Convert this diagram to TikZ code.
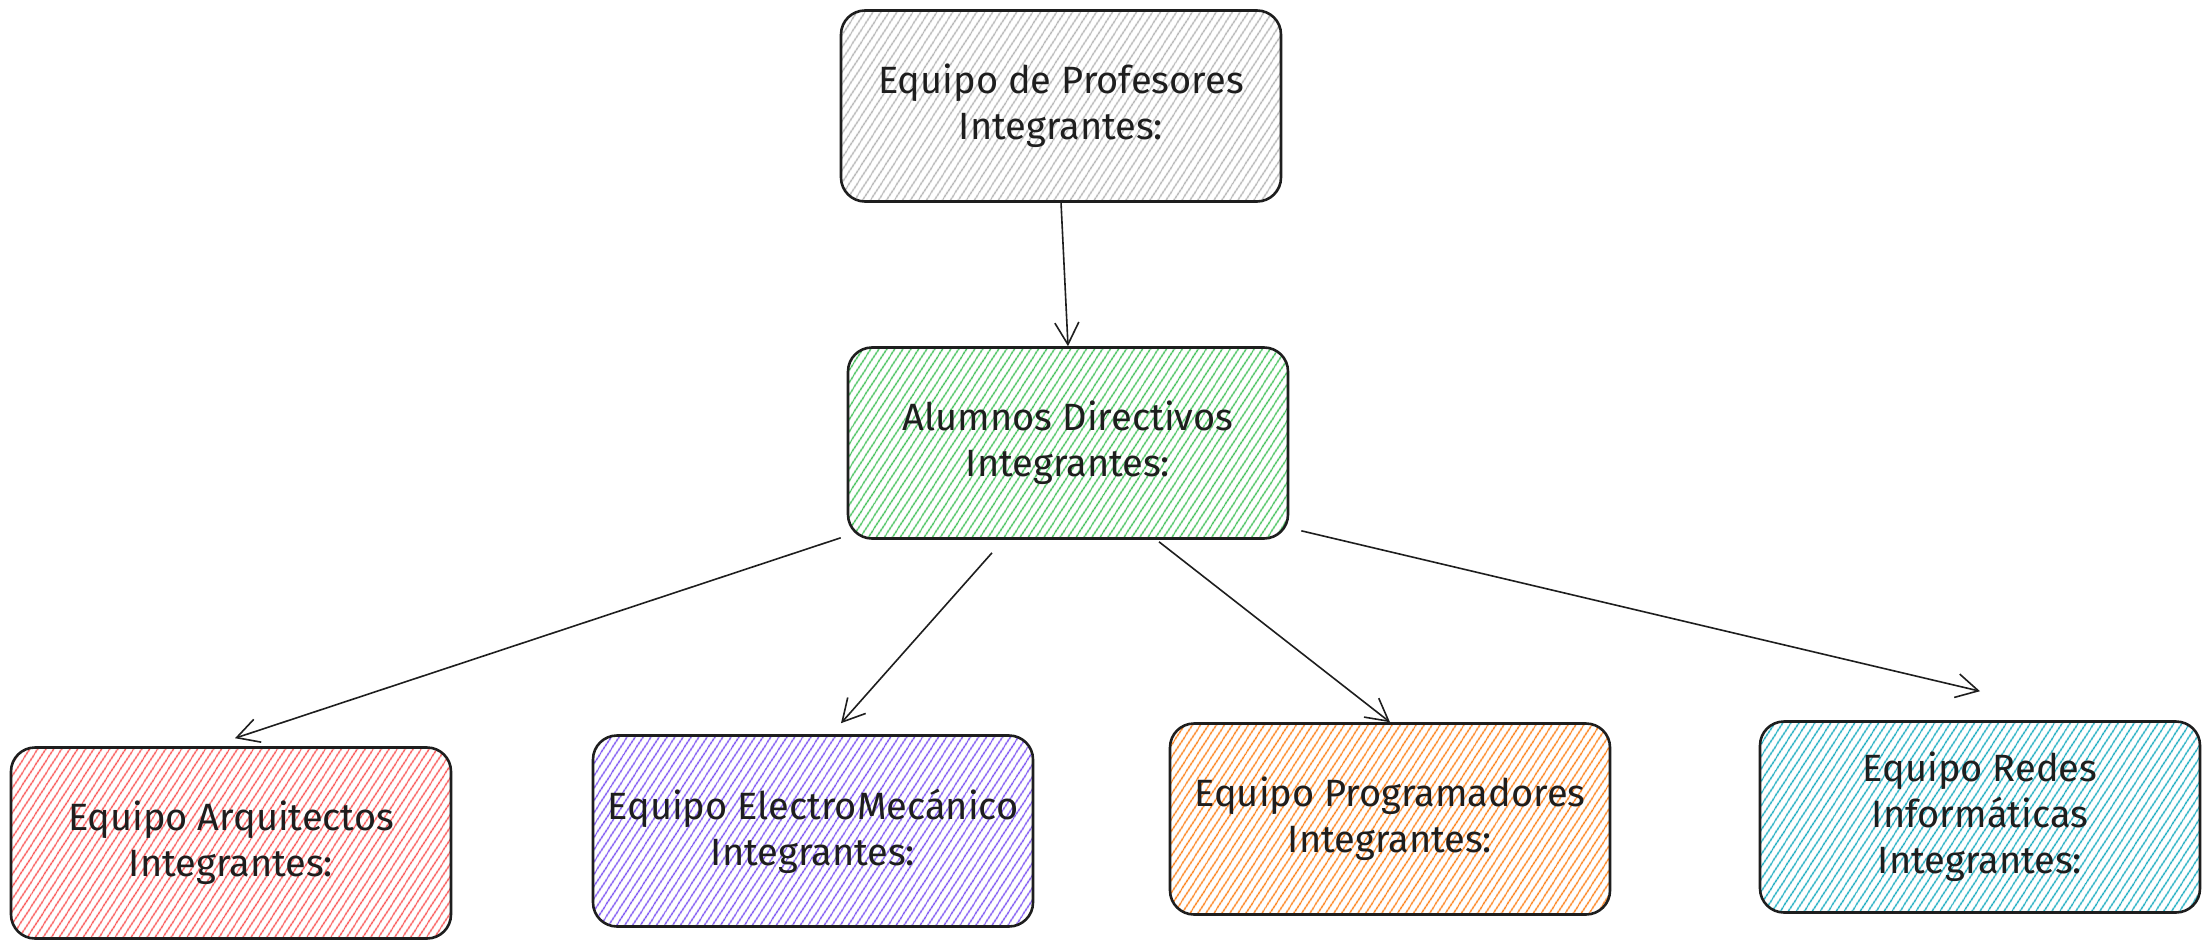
\documentclass[tikz,border=0pt]{standalone}
\usepackage{fontspec}
\setmainfont{Fira Sans}
\usetikzlibrary{arrows.meta,patterns.meta,calc}
\definecolor{ink}{HTML}{1E1E1E}
\definecolor{hgray}{HTML}{B4B4B4}
\definecolor{hgreen}{HTML}{40C057}
\definecolor{hred}{HTML}{FA5252}
\definecolor{hviolet}{HTML}{7950F2}
\definecolor{horange}{HTML}{FD7E14}
\definecolor{hcyan}{HTML}{15AABF}
\tikzset{
  box/.style={draw=ink, line width=2.6pt, rounded corners=24pt,
    minimum width=440pt, minimum height=191pt, align=center,
    font=\fontsize{38}{46}\selectfont, text=ink,
    pattern={Lines[angle=57,distance=6.5pt,line width=1.5pt]}},
  arr/.style={draw=ink, line width=1.6pt,
    -{Straight Barb[length=22pt,width=24pt,line width=1.6pt]}}
}
\begin{document}
\begin{tikzpicture}[x=1pt,y=-1pt]
\fill[white] (0,0) rectangle (2210,950);
\useasboundingbox (0,0) rectangle (2210,950);
\node[box, pattern color=hgray]   (p) at (1061,106) {Equipo de Profesores\\Integrantes:};
\node[box, pattern color=hgreen]  (g) at (1068,443) {Alumnos Directivos\\Integrantes:};
\node[box, pattern color=hred]    (r) at (231,843)  {Equipo Arquitectos\\Integrantes:};
\node[box, pattern color=hviolet] (e) at (813,831)  {Equipo ElectroMecánico\\Integrantes:};
\node[box, pattern color=horange] (o) at (1390,819) {Equipo Programadores\\Integrantes:};
\node[box, pattern color=hcyan]   (c) at (1980,817) {Equipo Redes\\Informáticas\\Integrantes:};
\draw[arr] (p.south) -- (g.north);
\draw[arr] ($(g.south west)+(-6,-2)$) -- ($(r.north)+(4,-8)$);
\draw[arr] ($(g.south)+(-76,13)$) -- ($(e.north)+(28,-11)$);
\draw[arr] ($(g.south)+(91,2)$) -- (o.north);
\draw[arr] ($(g.south east)+(12,-9)$) -- ($(c.north)+(0,-29)$);
\end{tikzpicture}
\end{document}
